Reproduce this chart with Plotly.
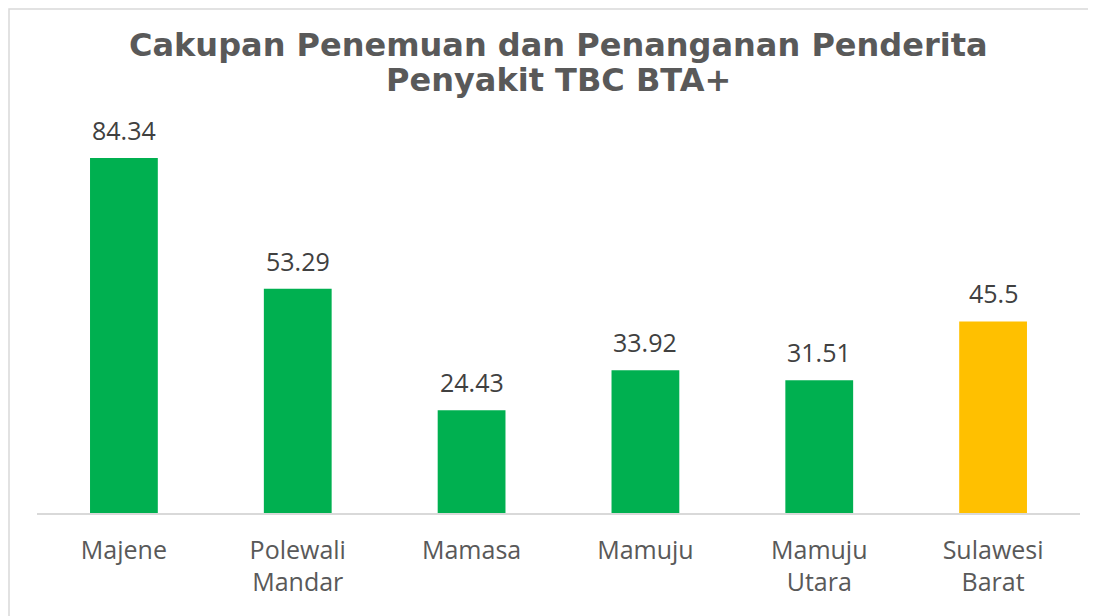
import plotly.graph_objects as go

categories = ["Majene", "Polewali<br>Mandar", "Mamasa", "Mamuju", "Mamuju<br>Utara", "Sulawesi<br>Barat"]
values = [84.34, 53.29, 24.43, 33.92, 31.51, 45.5]
labels = ["84.34", "53.29", "24.43", "33.92", "31.51", "45.5"]
colors = ["#00B050", "#00B050", "#00B050", "#00B050", "#00B050", "#FFC000"]
title_lines = ["Cakupan Penemuan dan Penanganan Penderita", "Penyakit TBC BTA+"]

W, H = 1096, 616
OFF = 8  # page body margin
L, R, T, B = 37 - OFF, 16 + OFF, 120 - OFF, 103 + OFF
pw = W - L - R
ph = H - T - B


def px_x(p):
    return (p - OFF - L) / pw


def px_y(p):
    return (H - B - (p - OFF)) / ph


fig = go.Figure(go.Bar(
    x=categories, y=values, marker_color=colors, marker_line_width=0,
))

for c, v, t in zip(categories, values, labels):
    fig.add_annotation(x=c, y=v, text=t, showarrow=False, xanchor="center",
                       yanchor="middle", yshift=28,
                       font=dict(family="Open Sans", size=25, color="#404040"))

fig.add_shape(type="rect", xref="paper", yref="paper",
              x0=px_x(9), x1=px_x(1120), y0=px_y(9), y1=px_y(640),
              line=dict(color="#D9D9D9", width=1.5), fillcolor="rgba(0,0,0,0)", layer="below")

for txt, yc in zip(title_lines, [45, 80]):
    fig.add_annotation(text="<b>" + txt + "</b>", xref="paper", yref="paper",
                       x=px_x(558), y=px_y(yc), xanchor="center", yanchor="middle",
                       showarrow=False,
                       font=dict(family="DejaVu Sans", size=32, color="#595959"))

fig.update_layout(
    width=W, height=H,
    margin=dict(l=L, r=R, t=T, b=B),
    paper_bgcolor="white", plot_bgcolor="white",
    bargap=0.61,
    showlegend=False,
    xaxis=dict(
        showline=True, linecolor="#D9D9D9", linewidth=1.5,
        ticks="", tickfont=dict(family="Open Sans", size=25, color="#595959"),
        showgrid=False, ticklabelstandoff=14,
    ),
    yaxis=dict(range=[0, ph / 4.209], visible=False, showgrid=False),
)

fig.write_html("out.html")
